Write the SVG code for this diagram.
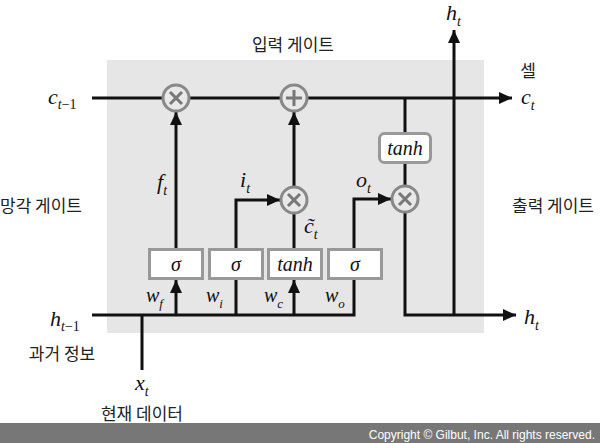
<svg xmlns="http://www.w3.org/2000/svg" width="600" height="443" viewBox="0 0 600 443">
<style>
.ln{stroke:#111;stroke-width:3;fill:none}
.arr{marker-end:url(#ah)}
.op{fill:#e8e8e8;stroke:#888;stroke-width:3}
.sym{stroke:#777;stroke-width:3;fill:none}
.box{fill:#fff;stroke:#999;stroke-width:3}
.m{font-family:"Liberation Serif",serif;font-style:italic;fill:#111}
.kr{font-family:"Noto Sans CJK KR","Noto Sans",sans-serif;font-size:17px;fill:#222}
</style>
<defs>
<marker id="ah" markerUnits="userSpaceOnUse" markerWidth="14" markerHeight="14" viewBox="0 0 14 14" refX="13" refY="7" orient="auto">
<path d="M0,1 L13,7 L0,13 z" fill="#111"/>
</marker>
</defs>
<rect width="600" height="443" fill="#fff"/>
<rect id="cell" x="107" y="60" width="377" height="273" fill="#e6e6e6"/>
<g id="connectors">
<line class="ln arr" x1="92" y1="98" x2="512" y2="98"/>
<line class="ln arr" x1="176" y1="249" x2="176" y2="112"/>
<line class="ln arr" x1="294" y1="186" x2="294" y2="112"/>
<polyline class="ln arr" points="236,249 236,200 280,200"/>
<line class="ln" x1="294" y1="249" x2="294" y2="213"/>
<polyline class="ln arr" points="354,249 354,199 391,199"/>
<line class="ln" x1="405" y1="98" x2="405" y2="186"/>
<polyline class="ln arr" points="405,212 405,315 516,315"/>
<line class="ln arr" x1="454" y1="315" x2="454" y2="30"/>
<polyline class="ln" points="92,315 354,315 354,279"/>
<line class="ln arr" x1="176" y1="315" x2="176" y2="280"/>
<line class="ln" x1="236" y1="315" x2="236" y2="279"/>
<line class="ln arr" x1="294" y1="315" x2="294" y2="280"/>
<line class="ln" x1="142" y1="315" x2="142" y2="370"/>
</g>
<g id="forget-mul"><circle class="op" cx="176" cy="98" r="13"/><path class="sym" d="M170,92 L182,104 M182,92 L170,104"/></g>
<g id="cell-add"><circle class="op" cx="294" cy="98" r="13"/><path class="sym" d="M294,90 V106 M286,98 H302"/></g>
<g id="input-mul"><circle class="op" cx="294" cy="200" r="13"/><path class="sym" d="M288,194 L300,206 M300,194 L288,206"/></g>
<g id="output-mul"><circle class="op" cx="405" cy="199" r="13"/><path class="sym" d="M399,193 L411,205 M411,193 L399,205"/></g>
<g id="sigma-f"><rect class="box" x="149.5" y="249.5" width="53" height="29"/><text class="m" x="176" y="271" font-size="20" text-anchor="middle">σ</text></g>
<g id="sigma-i"><rect class="box" x="209.5" y="249.5" width="53" height="29"/><text class="m" x="236" y="271" font-size="20" text-anchor="middle">σ</text></g>
<g id="tanh-c"><rect class="box" x="268.5" y="249.5" width="53" height="29"/><text class="m" x="295" y="271" font-size="20" text-anchor="middle">tanh</text></g>
<g id="sigma-o"><rect class="box" x="328.5" y="249.5" width="53" height="29"/><text class="m" x="355" y="271" font-size="20" text-anchor="middle">σ</text></g>
<g id="tanh-out"><rect class="box" x="379.5" y="133.5" width="51" height="29" rx="5"/><text class="m" x="405" y="155" font-size="20" text-anchor="middle">tanh</text></g>
<g id="labels">
<text class="kr" x="293" y="51" text-anchor="middle">입력 게이트</text>
<text class="kr" x="528" y="77" text-anchor="middle">셀</text>
<text class="kr" x="0" y="212">망각 게이트</text>
<text class="kr" x="512" y="212">출력 게이트</text>
<text class="kr" x="62" y="360" text-anchor="middle">과거 정보</text>
<text class="kr" x="142" y="420" text-anchor="middle">현재 데이터</text>
<text class="m" x="48" y="104" font-size="22">c<tspan font-size="14" dy="5">t</tspan><tspan font-size="14" font-style="normal">−1</tspan></text>
<text class="m" x="521" y="104" font-size="22">c<tspan font-size="14" dy="6">t</tspan></text>
<text class="m" x="446" y="20" font-size="22">h<tspan font-size="14" dy="6">t</tspan></text>
<text class="m" x="524" y="324" font-size="22">h<tspan font-size="14" dy="6">t</tspan></text>
<text class="m" x="50" y="326" font-size="22">h<tspan font-size="14" dy="5">t</tspan><tspan font-size="14" font-style="normal">−1</tspan></text>
<text class="m" x="135" y="390" font-size="22">x<tspan font-size="14" dy="6">t</tspan></text>
<text class="m" x="157" y="189" font-size="22">f<tspan font-size="14" dy="6">t</tspan></text>
<text class="m" x="240" y="187" font-size="22">i<tspan font-size="14" dy="6">t</tspan></text>
<text class="m" x="356" y="187" font-size="22">o<tspan font-size="14" dy="6">t</tspan></text>
<text class="m" x="304" y="233" font-size="22">c̃<tspan font-size="14" dy="6">t</tspan></text>
<text class="m" x="146" y="302" font-size="20">w<tspan font-size="13" dy="6">f</tspan></text>
<text class="m" x="206" y="302" font-size="20">w<tspan font-size="13" dy="6">i</tspan></text>
<text class="m" x="264" y="302" font-size="20">w<tspan font-size="13" dy="6">c</tspan></text>
<text class="m" x="325" y="302" font-size="20">w<tspan font-size="13" dy="6">o</tspan></text>
</g>
<g id="footer">
<rect x="0" y="423" width="600" height="20" fill="#777"/>
<text x="595" y="439" font-family="Liberation Sans,Arial,sans-serif" font-size="12" fill="#fff" text-anchor="end">Copyright © Gilbut, Inc. All rights reserved.</text>
</g>
</svg>
